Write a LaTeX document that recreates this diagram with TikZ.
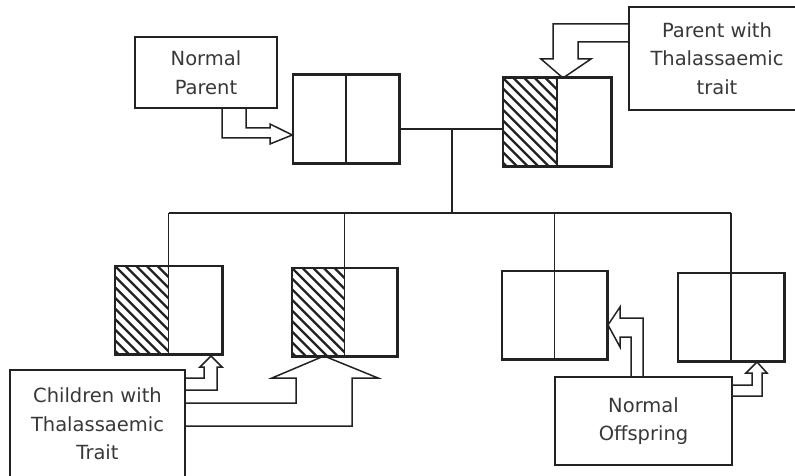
\documentclass[tikz,border=0pt]{standalone}
\usepackage{fontspec}
\setmainfont{DejaVu Sans}
\usetikzlibrary{calc}
\definecolor{ink}{HTML}{222222}
\tikzset{
  dbox/.style={draw=ink, line width=1.5pt, minimum width=106pt, minimum height=88pt, inner sep=0pt},
  lbox/.style={draw=ink, line width=1.5pt, inner sep=0pt, align=center, text=ink!90,
    font=\fontsize{19.5}{28.5}\selectfont},
  link/.style={draw=ink, line width=1.5pt},
  barrow/.style={draw=ink, line width=1.5pt, line join=miter},
  hatchline/.style={draw=ink, line width=2.3pt}
}
\newcommand{\hatchhalf}[1]{%
  \begin{scope}
    \clip (#1.north west) rectangle (#1.south);
    \foreach \k in {-10,...,6} {
      \draw[hatchline] ($(#1.north west)+(\k*10.6,0)$) -- ++(200,200);
    }
  \end{scope}}
\begin{document}
\begin{tikzpicture}[x=1pt,y=-1pt]
\useasboundingbox (0,0) rectangle (795,476);

% parents
\node[dbox] (p1) at (346,119) {};
\node[dbox, minimum width=108pt] (p2) at (557,122) {};
% children
\node[dbox, minimum width=107pt] (c1) at (168.5,310) {};
\node[dbox, minimum width=105pt] (c2) at (344.5,312) {};
\node[dbox, minimum width=105pt] (c3) at (554.5,315) {};
\node[dbox] (c4) at (731,317) {};

\hatchhalf{p2}
\hatchhalf{c1}
\hatchhalf{c2}

\foreach \b in {p1,p2,c1,c2,c3,c4} {
  \draw[link] (\b.north) -- (\b.south);
  \draw[link] (\b.north west) rectangle (\b.south east);
}

% labels
\node[lbox, minimum width=142pt, minimum height=71pt] (np) at (206,72.5) {Normal\\Parent};
\node[lbox, minimum width=176pt, minimum height=103pt] (pt) at (717,58.5) {Parent with\\Thalassaemic\\trait};
\node[lbox, minimum width=175pt, minimum height=108pt] (ct) at (97.5,424) {Children with\\Thalassaemic\\Trait};
\node[lbox, minimum width=177pt, minimum height=88pt] (no) at (643.5,421) {Normal\\Offspring};

% family tree lines
\coordinate (m) at (452,129);
\coordinate (s) at (452,213);
\draw[link] (p1.east |- m) -- (p2.west |- m);
\draw[link] (m) -- (s);
\draw[link] (c1.north |- s) -- (c4.north |- s);
\foreach \b in {c1,c2,c3,c4} \draw[link] (\b.north |- s) -- (\b.north);

% block arrows
\draw[barrow] (222,108) -- (222,138) -- (270,138) -- (270,144) -- (p1.west |- 0,135)
  -- (270,124) -- (270,128) -- (246,128) -- (246,108);
\draw[barrow] (pt.west |- 0,24) -- (553,24) -- (553,59) -- (541,59) -- (563,78)
  -- (591,59) -- (578,59) -- (578,42) -- (pt.west |- 0,42);
\draw[barrow] (ct.east |- 0,390) -- (217,390) -- (217,367) -- (222,367) -- (211,356)
  -- (200,367) -- (204,367) -- (204,378) -- (ct.east |- 0,378);
\draw[barrow] (ct.east |- 0,403) -- (296,403) -- (296,378) -- (272,378) -- (324,356)
  -- (378,378) -- (352,378) -- (352,426) -- (ct.east |- 0,426);
\draw[barrow] (631,377) -- (631,337) -- (620,337) -- (620,347) -- (608,325)
  -- (620,307) -- (620,318) -- (643,318) -- (643,377);
\draw[barrow] (no.east |- 0,385) -- (752,385) -- (752,373) -- (746,373) -- (757,362)
  -- (767,373) -- (762,373) -- (762,396) -- (no.east |- 0,396);
\end{tikzpicture}
\end{document}
